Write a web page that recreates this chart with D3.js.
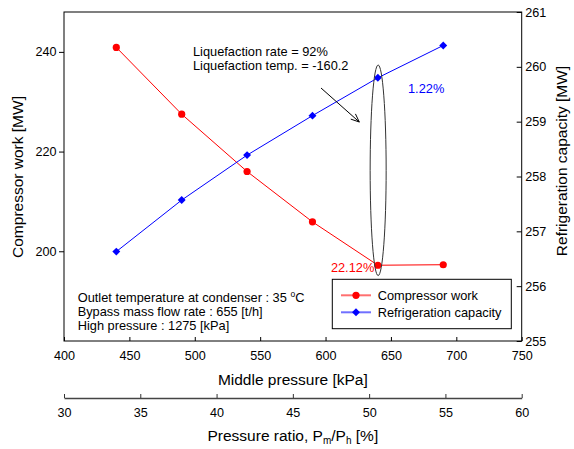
<!DOCTYPE html>
<html><head><meta charset="utf-8">
<script src="https://cdn.jsdelivr.net/npm/d3@7"></script>
<style>body{margin:0;background:#fff}svg{display:block;font-family:"Liberation Sans",Arial,sans-serif}</style>
</head><body>
<svg id="c" width="574" height="449"></svg>
<script>
const pressure = [440, 490, 540, 590, 640, 690];
const compressorWork = [240.9, 227.5, 216.0, 205.9, 197.2, 197.3];
const refrigCapacity = [256.63, 257.57, 258.39, 259.11, 259.80, 260.39];
const xTicks = [400, 450, 500, 550, 600, 650, 700, 750];
const ratioTicks = [30, 35, 40, 45, 50, 55, 60];
const leftTicks = [200, 220, 240];
const rightTicks = [255, 256, 257, 258, 259, 260, 261];

const svg = d3.select("#c");
const L = 64, R = 521.7, T = 12, B = 341;
const x = d3.scaleLinear([400, 750], [L, R]);
const yL = d3.scaleLinear([182, 248], [B, T]);
const yR = d3.scaleLinear([255, 261], [B, T]);
const x2 = d3.scaleLinear([30, 60], [L, R]);
const FS = 12.6;
const fmt = d3.format("d");

function styleAxis(g){
  g.selectAll("text").attr("font-size", FS).attr("fill", "#000").attr("font-family", null);
  g.selectAll("line").attr("stroke", "#000");
  g.select(".domain").remove();
}
svg.append("g").attr("transform", `translate(${L},0)`)
  .call(d3.axisLeft(yL).tickValues(leftTicks).tickFormat(fmt).tickSizeInner(5).tickSizeOuter(0).tickPadding(2.5)).call(styleAxis);
svg.append("g").attr("transform", `translate(${R},0)`)
  .call(d3.axisRight(yR).tickValues(rightTicks).tickFormat(fmt).tickSizeInner(-5).tickSizeOuter(0).tickPadding(3.5)).call(styleAxis);
svg.append("g").attr("transform", `translate(0,${B})`)
  .call(d3.axisBottom(x).tickValues(xTicks).tickFormat(fmt).tickSizeInner(-4).tickSizeOuter(0).tickPadding(10.5)).call(styleAxis);

// frame
svg.append("rect").attr("x", L).attr("y", T).attr("width", R - L).attr("height", B - T)
  .attr("fill", "none").attr("stroke", "#000").attr("stroke-width", 1);

// second axis
const g2 = svg.append("g").attr("transform", `translate(0,398)`)
  .call(d3.axisBottom(x2).tickValues(ratioTicks).tickFormat(fmt).tickSizeInner(-4).tickSizeOuter(0).tickPadding(10.5));
g2.selectAll("text").attr("font-size", FS).attr("fill", "#000").attr("font-family", null);
g2.selectAll("line").attr("stroke", "#333");
g2.select(".domain").attr("stroke", "#444").attr("stroke-width", 1.3);

// titles
const TFS = 15.5;
svg.append("text").attr("x", (L + R) / 2).attr("y", 384.5).attr("text-anchor", "middle")
  .attr("font-size", TFS).text("Middle pressure [kPa]");
const t2 = svg.append("text").attr("x", (L + R) / 2).attr("y", 440.5).attr("text-anchor", "middle").attr("font-size", TFS);
t2.append("tspan").text("Pressure ratio, P");
t2.append("tspan").attr("font-size", 10).attr("dy", 3).text("m");
t2.append("tspan").attr("dy", -3).text("/P");
t2.append("tspan").attr("font-size", 10).attr("dy", 3).text("h");
t2.append("tspan").attr("dy", -3).text(" [%]");
svg.append("text").attr("transform", "translate(22.5,177) rotate(-90)").attr("text-anchor", "middle")
  .attr("font-size", TFS).text("Compressor work [MW]");
svg.append("text").attr("transform", "translate(566.5,161) rotate(-90)").attr("text-anchor", "middle")
  .attr("font-size", TFS).text("Refrigeration capacity [MW]");

// data
const idx = d3.range(pressure.length);
svg.append("path").datum(idx).attr("fill", "none").attr("stroke", "#ff0000").attr("stroke-width", 1)
  .attr("d", d3.line().x(i => x(pressure[i])).y(i => yL(compressorWork[i])));
svg.append("path").datum(idx).attr("fill", "none").attr("stroke", "#0000ff").attr("stroke-width", 1)
  .attr("d", d3.line().x(i => x(pressure[i])).y(i => yR(refrigCapacity[i])));
svg.selectAll(".cw").data(idx).join("circle").attr("cx", i => x(pressure[i])).attr("cy", i => yL(compressorWork[i]))
  .attr("r", 3.6).attr("fill", "#ff0000");
const diamond = d3.symbol().type(d3.symbolDiamond2).size(40);
svg.selectAll(".rc").data(idx).join("path").attr("d", diamond)
  .attr("transform", i => `translate(${x(pressure[i])},${yR(refrigCapacity[i])})`).attr("fill", "#0000ff");

// annotations
const AFS = 12.8;
svg.append("text").attr("x", 193).attr("y", 56.3).attr("font-size", AFS).text("Liquefaction rate = 92%");
svg.append("text").attr("x", 193).attr("y", 70.3).attr("font-size", AFS).text("Liquefaction temp. = -160.2");
// arrow
const ax1 = 321, ay1 = 88, ax2 = 359.3, ay2 = 122;
svg.append("line").attr("x1", ax1).attr("y1", ay1).attr("x2", ax2).attr("y2", ay2).attr("stroke", "#000").attr("stroke-width", 1);
const ang = Math.atan2(ay2 - ay1, ax2 - ax1), hl = 9, ha = 0.4;
svg.append("path").attr("fill", "none").attr("stroke", "#000").attr("stroke-width", 1)
  .attr("d", `M${ax2 - hl * Math.cos(ang - ha)},${ay2 - hl * Math.sin(ang - ha)}L${ax2},${ay2}L${ax2 - hl * Math.cos(ang + ha)},${ay2 - hl * Math.sin(ang + ha)}`);
// ellipse
svg.append("ellipse").attr("cx", x(640) + 0.3).attr("cy", 170.3).attr("rx", 8).attr("ry", 105.3)
  .attr("fill", "none").attr("stroke", "#333").attr("stroke-width", 1);
svg.append("text").attr("x", 408).attr("y", 92.5).attr("font-size", AFS).attr("fill", "#0000ff").text("1.22%");
svg.append("text").attr("x", 374.3).attr("y", 272.2).attr("text-anchor", "end").attr("font-size", AFS).attr("fill", "#ff0000").text("22.12%");

// conditions text
const cond = svg.append("text").attr("x", 77.7).attr("y", 302.2).attr("font-size", AFS);
cond.append("tspan").text("Outlet temperature at condenser : 35 ");
cond.append("tspan").attr("font-size", 8.5).attr("dy", -5).text("o");
cond.append("tspan").attr("dy", 5).text("C");
svg.append("text").attr("x", 77.7).attr("y", 316.2).attr("font-size", AFS).text("Bypass mass flow rate : 655 [t/h]");
svg.append("text").attr("x", 77.7).attr("y", 330.2).attr("font-size", AFS).text("High pressure : 1275 [kPa]");

// legend
const lg = svg.append("g");
lg.append("rect").attr("x", 332.3).attr("y", 279.3).attr("width", 179).attr("height", 49.4)
  .attr("fill", "#fff").attr("stroke", "#000").attr("stroke-width", 1);
const items = [
  {name: "Compressor work", color: "#ff0000", light: "#ff7070", y: 295.3, sym: "c"},
  {name: "Refrigeration capacity", color: "#0000ff", light: "#7070ff", y: 312.3, sym: "d"}
];
items.forEach(it => {
  lg.append("line").attr("x1", 341).attr("x2", 371).attr("y1", it.y).attr("y2", it.y)
    .attr("stroke", it.light).attr("stroke-width", 2);
  if (it.sym === "c") lg.append("circle").attr("cx", 356).attr("cy", it.y).attr("r", 3.6).attr("fill", it.color);
  else lg.append("path").attr("d", diamond).attr("transform", `translate(356,${it.y})`).attr("fill", it.color);
  lg.append("text").attr("x", 377.7).attr("y", it.y + 4.5).attr("font-size", AFS).text(it.name);
});
</script>
</body></html>
